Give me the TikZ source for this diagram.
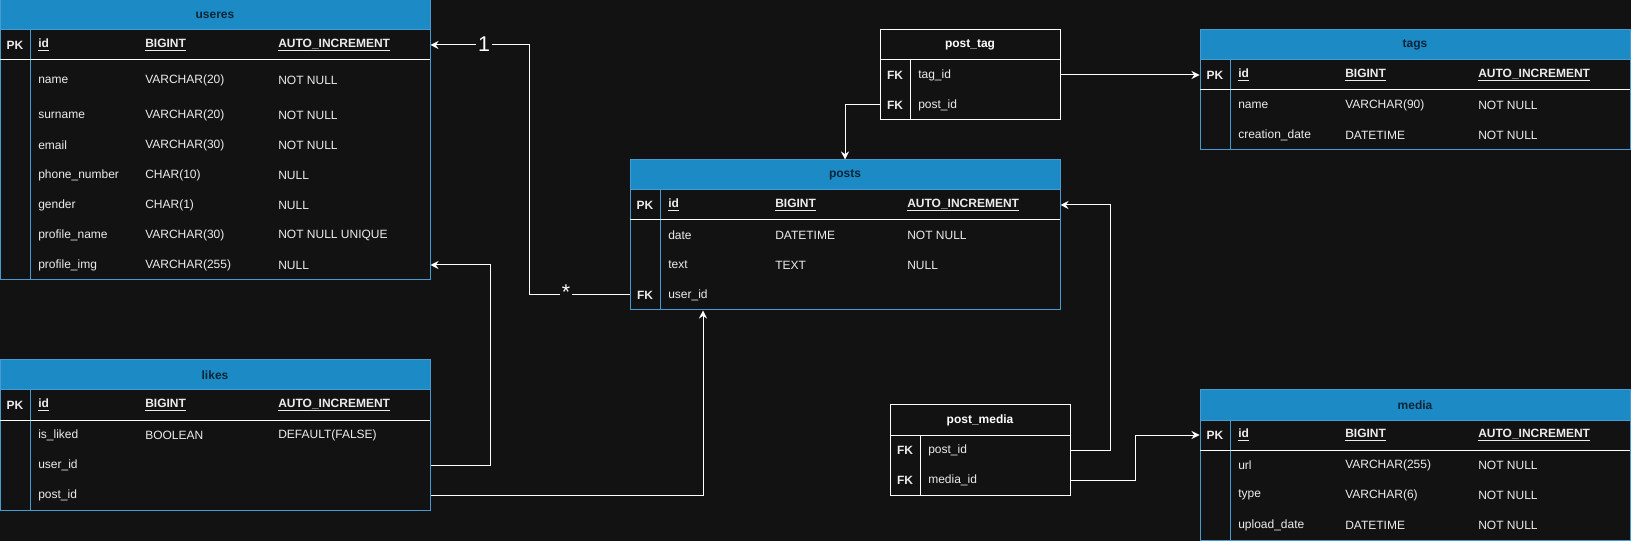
\documentclass[tikz,border=0pt]{standalone}
\usepackage{fontspec}
\setmainfont{Liberation Sans}
\usetikzlibrary{positioning,fit,arrows.meta,calc}
\definecolor{bgDark}{RGB}{18,18,18}
\definecolor{headBlue}{RGB}{27,138,197}
\definecolor{borderBlue}{RGB}{70,155,210}
\definecolor{titleDark}{RGB}{12,36,56}
\definecolor{textLight}{RGB}{236,236,236}

\begin{document}
\begin{tikzpicture}[
    x=0.75pt, y=-0.75pt, font=\fontsize{9}{11}\selectfont,
    tbl/.style={draw=borderBlue, fill=bgDark, inner sep=0pt, line width=0.75pt},
    head/.style={draw=borderBlue, fill=headBlue, inner sep=0pt, line width=0.75pt,
        label={[text=titleDark, font=\fontsize{9}{11}\selectfont\bfseries]center:#1}},
    jtbl/.style={draw=white, fill=bgDark, inner sep=0pt, line width=0.75pt},
    jhead/.style={draw=white, fill=bgDark, inner sep=0pt, line width=0.75pt,
        label={[text=white, font=\fontsize{9}{11}\selectfont\bfseries]center:#1}},
    key/.style={inner sep=0pt, text=textLight, font=\fontsize{9}{11}\selectfont\bfseries},
    cell/.style={anchor=west, inner sep=0pt, text=textLight},
    pkcell/.style={cell, font=\fontsize{9}{11}\selectfont\bfseries},
    col/.style={draw=borderBlue, line width=0.75pt},
    sep/.style={draw=white, line width=0.75pt},
    rel/.style={draw=white, line width=0.75pt, -{Stealth[length=6pt,width=6pt,inset=2pt]}},
    card/.style={fill=bgDark, text=white, inner sep=1.5pt, font=\fontsize{16}{18}\selectfont}
]
\useasboundingbox (0,0) rectangle (1631,541);
\fill[bgDark] (0,0) rectangle (1631,541);

% useres
\node[tbl, fit={(0,0) (430,280)}] (useres) {};
\node[head=useres, fit={(0,0) (430,30)}] (useresHead) {};
\draw[col] (30,30) -- (30,280);
\draw[sep] (0,60) -- (430,60);
\node[key] (uPK) at (15,45) {PK};
\node[pkcell] (uId) at (38,45) {\underline{id}};
\node[pkcell] (uIdType) at (145,45) {\underline{BIGINT}};
\node[pkcell] (uIdOpt) at (278,45) {\underline{AUTO\_INCREMENT}};
\node[cell] (uName) at (38,80) {name};
\node[cell] (uNameType) at (145,80) {VARCHAR(20)};
\node[cell] (uNameOpt) at (278,80) {NOT NULL};
\node[cell] (uSurname) at (38,115) {surname};
\node[cell] (uSurnameType) at (145,115) {VARCHAR(20)};
\node[cell] (uSurnameOpt) at (278,115) {NOT NULL};
\node[cell] (uEmail) at (38,145) {email};
\node[cell] (uEmailType) at (145,145) {VARCHAR(30)};
\node[cell] (uEmailOpt) at (278,145) {NOT NULL};
\node[cell] (uPhone) at (38,175) {phone\_number};
\node[cell] (uPhoneType) at (145,175) {CHAR(10)};
\node[cell] (uPhoneOpt) at (278,175) {NULL};
\node[cell] (uGender) at (38,205) {gender};
\node[cell] (uGenderType) at (145,205) {CHAR(1)};
\node[cell] (uGenderOpt) at (278,205) {NULL};
\node[cell] (uProfile) at (38,235) {profile\_name};
\node[cell] (uProfileType) at (145,235) {VARCHAR(30)};
\node[cell] (uProfileOpt) at (278,235) {NOT NULL UNIQUE};
\node[cell] (uImg) at (38,265) {profile\_img};
\node[cell] (uImgType) at (145,265) {VARCHAR(255)};
\node[cell] (uImgOpt) at (278,265) {NULL};

% likes
\node[tbl, fit={(0,360) (430,510)}] (likes) {};
\node[head=likes, fit={(0,360) (430,390)}] (likesHead) {};
\draw[col] (30,390) -- (30,510);
\draw[sep] (0,420) -- (430,420);
\node[key] (lPK) at (15,405) {PK};
\node[pkcell] (lId) at (38,405) {\underline{id}};
\node[pkcell] (lIdType) at (145,405) {\underline{BIGINT}};
\node[pkcell] (lIdOpt) at (278,405) {\underline{AUTO\_INCREMENT}};
\node[cell] (lLiked) at (38,435) {is\_liked};
\node[cell] (lLikedType) at (145,435) {BOOLEAN};
\node[cell] (lLikedOpt) at (278,435) {DEFAULT(FALSE)};
\node[cell] (lUser) at (38,465) {user\_id};
\node[cell] (lPost) at (38,495) {post\_id};

% posts
\node[tbl, fit={(630,160) (1060,310)}] (posts) {};
\node[head=posts, fit={(630,160) (1060,190)}] (postsHead) {};
\draw[col] (660,190) -- (660,310);
\draw[sep] (630,220) -- (1060,220);
\node[key] (pPK) at (645,205) {PK};
\node[pkcell] (pId) at (668,205) {\underline{id}};
\node[pkcell] (pIdType) at (775,205) {\underline{BIGINT}};
\node[pkcell] (pIdOpt) at (907,205) {\underline{AUTO\_INCREMENT}};
\node[cell] (pDate) at (668,235) {date};
\node[cell] (pDateType) at (775,235) {DATETIME};
\node[cell] (pDateOpt) at (907,235) {NOT NULL};
\node[cell] (pText) at (668,265) {text};
\node[cell] (pTextType) at (775,265) {TEXT};
\node[cell] (pTextOpt) at (907,265) {NULL};
\node[key] (pFK) at (645,295) {FK};
\node[cell] (pUser) at (668,295) {user\_id};

% post_tag
\node[jtbl, fit={(880,30) (1060,120)}] (postTag) {};
\node[jhead=post\_tag, fit={(880,30) (1060,60)}] (postTagHead) {};
\draw[sep] (910,60) -- (910,120);
\node[key] (ptFK1) at (895,75) {FK};
\node[cell] (ptTag) at (918,75) {tag\_id};
\node[key] (ptFK2) at (895,105) {FK};
\node[cell] (ptPost) at (918,105) {post\_id};

% tags
\node[tbl, fit={(1200,30) (1630,150)}] (tags) {};
\node[head=tags, fit={(1200,30) (1630,60)}] (tagsHead) {};
\draw[col] (1230,60) -- (1230,150);
\draw[sep] (1200,90) -- (1630,90);
\node[key] (tPK) at (1215,75) {PK};
\node[pkcell] (tId) at (1238,75) {\underline{id}};
\node[pkcell] (tIdType) at (1345,75) {\underline{BIGINT}};
\node[pkcell] (tIdOpt) at (1478,75) {\underline{AUTO\_INCREMENT}};
\node[cell] (tName) at (1238,105) {name};
\node[cell] (tNameType) at (1345,105) {VARCHAR(90)};
\node[cell] (tNameOpt) at (1478,105) {NOT NULL};
\node[cell] (tDate) at (1238,135) {creation\_date};
\node[cell] (tDateType) at (1345,135) {DATETIME};
\node[cell] (tDateOpt) at (1478,135) {NOT NULL};

% post_media
\node[jtbl, fit={(890,405) (1070,495)}] (postMedia) {};
\node[jhead=post\_media, fit={(890,405) (1070,435)}] (postMediaHead) {};
\draw[sep] (920,435) -- (920,495);
\node[key] (pmFK1) at (905,450) {FK};
\node[cell] (pmPost) at (928,450) {post\_id};
\node[key] (pmFK2) at (905,480) {FK};
\node[cell] (pmMedia) at (928,480) {media\_id};

% media
\node[tbl, fit={(1200,390) (1630,540)}] (media) {};
\node[head=media, fit={(1200,390) (1630,420)}] (mediaHead) {};
\draw[col] (1230,420) -- (1230,540);
\draw[sep] (1200,450) -- (1630,450);
\node[key] (mPK) at (1215,435) {PK};
\node[pkcell] (mId) at (1238,435) {\underline{id}};
\node[pkcell] (mIdType) at (1345,435) {\underline{BIGINT}};
\node[pkcell] (mIdOpt) at (1478,435) {\underline{AUTO\_INCREMENT}};
\node[cell] (mUrl) at (1238,465) {url};
\node[cell] (mUrlType) at (1345,465) {VARCHAR(255)};
\node[cell] (mUrlOpt) at (1478,465) {NOT NULL};
\node[cell] (mType) at (1238,495) {type};
\node[cell] (mTypeType) at (1345,495) {VARCHAR(6)};
\node[cell] (mTypeOpt) at (1478,495) {NOT NULL};
\node[cell] (mDate) at (1238,525) {upload\_date};
\node[cell] (mDateType) at (1345,525) {DATETIME};
\node[cell] (mDateOpt) at (1478,525) {NOT NULL};

% relations
\draw[rel] (posts.west |- pUser) -- ++(-100,0) |- (useres.east |- uId);
\draw[rel] (likes.east |- lUser) -- ++(60,0) |- (useres.east |- uImg);
\draw[rel] (likes.east |- lPost) -| ($(posts.south)+(-142,0)$);
\draw[rel] (postTag.west |- ptPost) -| (posts.north);
\draw[rel] (postTag.east |- ptTag) -- (tags.west |- tId);
\draw[rel] (postMedia.east |- pmPost) -- ++(40,0) |- (posts.east |- pId);
\draw[rel] (postMedia.east |- pmMedia) -- ++(65,0) |- (media.west |- mId);

\node[card] (one) at (484,44) {1};
\node[card] (many) at (566,292) {*};
\end{tikzpicture}
\end{document}
